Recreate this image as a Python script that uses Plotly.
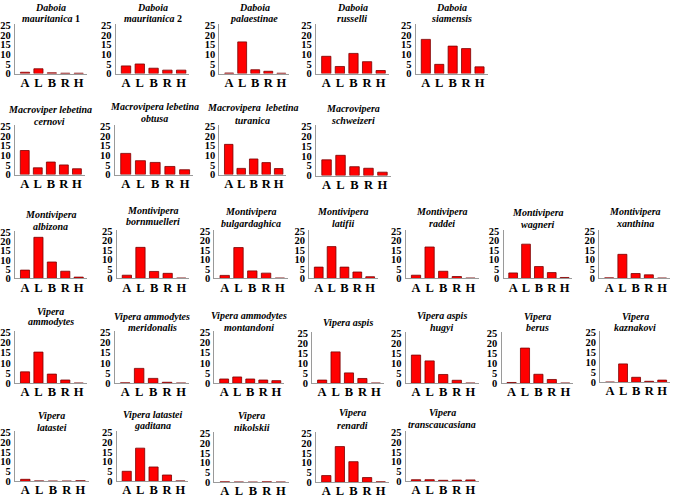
import plotly.graph_objects as go

categories = ["A", "L", "B", "R", "H"]

# Row 1 – Daboia
daboia_mauritanica_1 = [0.7, 2.5, 0.4, 0.2, 0.2]
daboia_mauritanica_2 = [4.0, 5.0, 2.8, 1.8, 1.8]
daboia_palaestinae = [0.3, 16.5, 2.0, 1.2, 0.2]
daboia_russelli = [9.0, 3.7, 10.5, 6.2, 1.6]
daboia_siamensis = [17.8, 4.8, 14.3, 13.0, 3.5]
# Row 2 – Macrovipera
macrovipera_cernovi = [12.5, 3.5, 6.5, 5.0, 3.0]
macrovipera_obtusa = [11.0, 7.2, 6.3, 4.2, 2.5]
macrovipera_turanica = [15.7, 3.2, 8.1, 6.2, 3.1]
macrovipera_schweizeri = [8.0, 10.3, 4.5, 3.7, 1.7]
# Row 3 – Montivipera
montivipera_albizona = [4.5, 22.3, 8.9, 3.9, 0.7]
montivipera_bornmuelleri = [1.7, 16.5, 3.7, 2.7, 0.2]
montivipera_bulgardaghica = [1.6, 16.4, 4.0, 2.8, 0.2]
montivipera_latifii = [6.0, 16.9, 6.0, 3.4, 0.9]
montivipera_raddei = [1.7, 16.7, 3.8, 1.0, 0.2]
montivipera_wagneri = [2.9, 18.2, 6.3, 3.1, 0.5]
montivipera_xanthina = [0.3, 12.8, 2.6, 1.9, 0.2]
# Row 4 – Vipera
vipera_ammodytes = [5.6, 15.3, 4.5, 1.6, 0.1]
vipera_ammodytes_meridonalis = [0.2, 7.3, 2.4, 0.5, 0.1]
vipera_ammodytes_montandoni = [2.1, 3.1, 2.1, 1.6, 1.3]
vipera_aspis = [1.6, 15.7, 5.2, 2.4, 0.1]
vipera_aspis_hugyi = [14.1, 11.2, 4.4, 1.5, 0.1]
vipera_berus = [0.4, 17.6, 4.5, 1.9, 0.1]
vipera_kaznakovi = [0.1, 9.2, 2.5, 0.5, 1.1]
# Row 5 – Vipera
vipera_latastei = [1.0, 0.2, 0.1, 0.1, 0.3]
vipera_latastei_gaditana = [5.1, 16.9, 7.3, 3.2, 0.2]
vipera_nikolskii = [0.2, 0.1, 0.05, 0.2, 0.1]
vipera_renardi = [3.4, 18.2, 10.5, 2.4, 0.2]
vipera_transcaucasiana = [0.8, 0.8, 0.5, 0.6, 0.7]

series = [
    daboia_mauritanica_1, daboia_mauritanica_2, daboia_palaestinae, daboia_russelli, daboia_siamensis,
    macrovipera_cernovi, macrovipera_obtusa, macrovipera_turanica, macrovipera_schweizeri,
    montivipera_albizona, montivipera_bornmuelleri, montivipera_bulgardaghica, montivipera_latifii,
    montivipera_raddei, montivipera_wagneri, montivipera_xanthina,
    vipera_ammodytes, vipera_ammodytes_meridonalis, vipera_ammodytes_montandoni, vipera_aspis,
    vipera_aspis_hugyi, vipera_berus, vipera_kaznakovi,
    vipera_latastei, vipera_latastei_gaditana, vipera_nikolskii, vipera_renardi, vipera_transcaucasiana,
]

titles = [
    ["<i>Daboia</i>", "<i>mauritanica</i> 1"],
    ["<i>Daboia</i>", "<i>mauritanica</i> 2"],
    ["<i>Daboia</i>", "<i>palaestinae</i>"],
    ["<i>Daboia</i>", "<i>russelli</i>"],
    ["<i>Daboia</i>", "<i>siamensis</i>"],
    ["<i>Macroviper lebetina</i>", "<i>cernovi</i>"],
    ["<i>Macrovipera lebetina</i>", "<i>obtusa</i>"],
    ["<i>Macrovipera  lebetina</i>", "<i>turanica</i>"],
    ["<i>Macrovipera</i>", "<i>schweizeri</i>"],
    ["<i>Montivipera</i>", "<i>albizona</i>"],
    ["<i>Montivipera</i>", "<i>bornmuelleri</i>"],
    ["<i>Montivipera</i>", "<i>bulgardaghica</i>"],
    ["<i>Montivipera</i>", "<i>latifii</i>"],
    ["<i>Montivipera</i>", "<i>raddei</i>"],
    ["<i>Montivipera</i>", "<i>wagneri</i>"],
    ["<i>Montivipera</i>", "<i>xanthina</i>"],
    ["<i>Vipera</i>", "<i>ammodytes</i>"],
    ["<i>Vipera ammodytes</i>", "<i>meridonalis</i>"],
    ["<i>Vipera ammodytes</i>", "<i>montandoni</i>"],
    ["<i>Vipera aspis</i>"],
    ["<i>Vipera aspis</i>", "<i>hugyi</i>"],
    ["<i>Vipera</i>", "<i>berus</i>"],
    ["<i>Vipera</i>", "<i>kaznakovi</i>"],
    ["<i>Vipera</i>", "<i>latastei</i>"],
    ["<i>Vipera latastei</i>", "<i>gaditana</i>"],
    ["<i>Vipera</i>", "<i>nikolskii</i>"],
    ["<i>Vipera</i>", "<i>renardi</i>"],
    ["<i>Vipera</i>", "<i>transcaucasiana</i>"],
]

# layout geometry in pixels: (x_left, x_right, y_at_25, y_at_0, title_line1_y, title_line2_y)
W, H = 676, 501
panels = [
    (13, 85, 22, 71, 7, 18), (114, 188, 22, 71, 7, 18), (218, 288, 22, 71, 7, 18),
    (315, 388, 22, 71, 7, 18), (415, 487, 22, 71, 7, 18),
    (13, 83, 125, 174, 111, 123), (113, 192, 125, 174, 108, 120), (218, 285, 125, 174, 109, 122),
    (315, 390, 125, 175, 110, 122),
    (13, 85, 233, 280, 218, 230), (115, 188, 232, 280, 214, 225), (213, 287, 232, 280, 215, 227),
    (308, 377, 232, 280, 215, 227), (405, 478, 232, 280, 215, 227), (503, 572, 232, 280, 216, 228),
    (599, 670, 232, 280, 215, 227),
    (13, 85, 335, 387, 317, 327), (113, 188, 335, 387, 322, 333), (213, 283, 335, 387, 321, 333),
    (311, 383, 336, 387, 328, 328), (405, 478, 336, 387, 321, 333), (501, 573, 336, 387, 322, 333),
    (600, 670, 335, 386, 322, 333),
    (13, 87, 437, 487, 423, 435), (115, 187, 437, 487, 422, 433), (213, 288, 438, 488, 423, 435),
    (315, 388, 438, 488, 420, 433), (405, 478, 437, 487, 420, 432),
]
TITLE_SHIFT = -3

FONT = "Liberation Serif"
fig = go.Figure()
layout = dict(
    width=W, height=H, margin=dict(l=0, r=0, t=0, b=0),
    paper_bgcolor="white", plot_bgcolor="white", showlegend=False,
    font=dict(family=FONT, color="black"),
)
annotations = []
for i, (vals, (xl, xr, y25, y0, t1, t2), tt) in enumerate(zip(series, panels, titles)):
    n = "" if i == 0 else str(i + 1)
    fig.add_trace(go.Bar(
        x=list(range(len(categories))), y=vals, width=0.68,
        marker=dict(color="#ff0000", line=dict(color="#7a0000", width=0.8)),
        xaxis="x" + n, yaxis="y" + n,
    ))
    s = (y0 - y25) / 25.0
    ytop = y0 - 25.6 * s
    layout["xaxis" + n] = dict(
        domain=[xl / W, xr / W], anchor="y" + n, range=[-0.75, 4.6],
        tickmode="array", tickvals=list(range(len(categories))), ticktext=categories,
        showgrid=False, zeroline=False, showline=True, linecolor="#9a9a9a", linewidth=1.2,
        ticks="", ticklabelstandoff=-3,
        tickfont=dict(family=FONT, size=12.5, color="black", weight="bold"),
        fixedrange=True,
    )
    layout["yaxis" + n] = dict(
        domain=[1 - y0 / H, 1 - ytop / H], anchor="x" + n, range=[0, 25.6],
        tickmode="array", tickvals=[0, 5, 10, 15, 20, 25],
        showgrid=False, zeroline=False, showline=True, linecolor="#9a9a9a", linewidth=1.2,
        ticks="", ticklabelstandoff=1, tickfont=dict(family=FONT, size=10.5, color="black", weight="bold"),
        fixedrange=True,
    )
    cx = (xl + xr) / 2 / W
    ys = [t1] if len(tt) == 1 else [t1, t2]
    for txt, yy in zip(tt, ys):
        annotations.append(dict(
            text="<b>" + txt + "</b>", x=cx, y=1 - (yy + TITLE_SHIFT) / H, xref="paper", yref="paper",
            xanchor="center", yanchor="middle", showarrow=False,
            font=dict(family=FONT, size=10, color="black"),
        ))
layout["annotations"] = annotations
fig.update_layout(**layout)
fig.write_html(
    "out.html",
    config={"displayModeBar": False},
    post_script="document.body.style.margin='0px';document.body.style.padding='0px';",
)
